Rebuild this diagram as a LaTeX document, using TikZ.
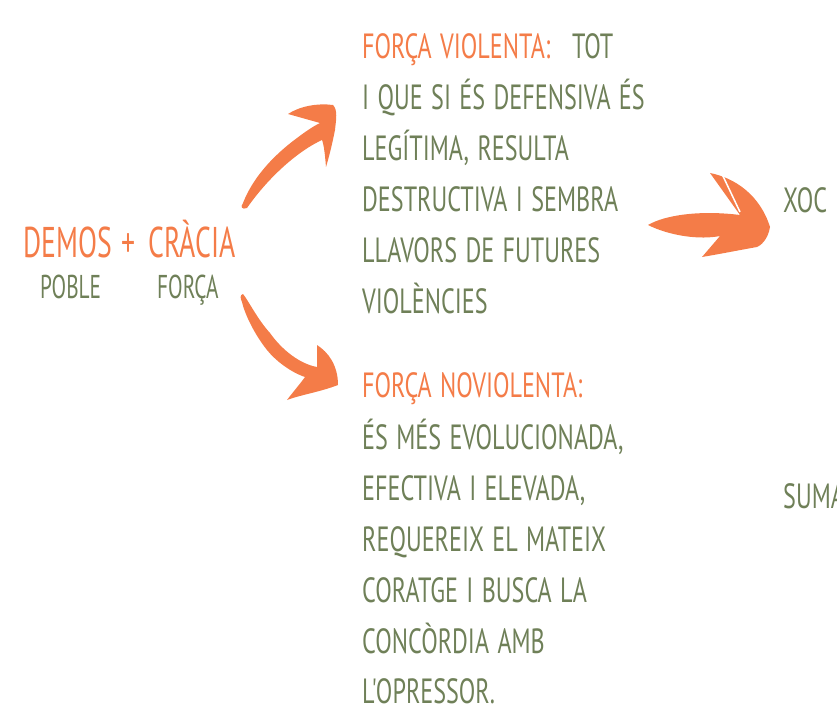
\documentclass[tikz,border=0pt]{standalone}
\usepackage{fontspec}
\setmainfont{PT Sans}[FakeStretch=0.69, WordSpace=1.3, Ligatures=TeXOff]
\newfontfamily\bigfont{PT Sans}[FakeStretch=0.645]
\usetikzlibrary{positioning}
\definecolor{carrot}{HTML}{F47C48}
\definecolor{sage}{HTML}{6F8058}

\begin{document}
\begin{tikzpicture}[x=1pt, y=-1pt,
    hand/.style={font=\fontsize{35}{35}\selectfont, text=sage, anchor=base west, inner sep=0pt},
    head/.style={hand, text=carrot},
    big/.style={hand, font=\bigfont\fontsize{43}{43}\selectfont, text=carrot},
    small/.style={hand, font=\bigfont\fontsize{33}{33}\selectfont},
    brush/.style={fill=carrot, draw=none}
]
\useasboundingbox (0,0) rectangle (837,711);
\clip (0,0) rectangle (837,711);

% demos + cracia
\node[big] (demos) at (23,258) {DEMOS};
\node[big] (plus) at (121,258) {+};
\node[big] (cracia) at (148,258) {CRÀCIA};
\node[small] (poble) at (40,298) {POBLE};
\node[small] (forca) at (157,298) {FORÇA};

% violent branch
\node[head] (violenta) at (362,59) {FORÇA VIOLENTA:};
\node[hand] (tot) at (572,59) {TOT};
\foreach \txt [count=\i] in {I QUE SI ÉS DEFENSIVA ÉS, {LEGÍTIMA, RESULTA}, DESTRUCTIVA I SEMBRA, LLAVORS DE FUTURES, VIOLÈNCIES}
    \node[hand] (v\i) at (362,59+50.8*\i) {\txt};

% nonviolent branch
\node[head] (noviolenta) at (362,397) {FORÇA NOVIOLENTA:};
\foreach \txt [count=\i] in {{ÉS MÉS EVOLUCIONADA,}, {EFECTIVA I ELEVADA,}, REQUEREIX EL MATEIX, CORATGE I BUSCA LA, CONCÒRDIA AMB, L'OPRESSOR.}
    \node[hand] (n\i) at (362,399+50.8*\i) {\txt};

\node[hand] (xoc) at (783,213) {XOC};
\node[hand] (suma) at (783,508) {SUMA};

% brush arrows
\fill[brush] (243,203) .. controls (252,180) and (270,158) .. (297,138)
    .. controls (305,132) and (312,127) .. (320,123) -- (288,114)
    .. controls (300,106) and (318,103) .. (333,105)
    .. controls (338,110) and (336,120) .. (335,130)
    .. controls (332,145) and (329,157) .. (326,167)
    .. controls (325,155) and (324,145) .. (322,140)
    .. controls (300,150) and (270,175) .. (247,208)
    .. controls (242,210) and (240,207) .. cycle;
\fill[brush] (243,294) .. controls (248,300) and (258,320) .. (270,333)
    .. controls (282,350) and (300,364) .. (317,367) -- (317,345)
    .. controls (328,352) and (338,365) .. (338,385)
    .. controls (320,392) and (300,395) .. (287,400)
    .. controls (293,392) and (300,384) .. (305,377)
    .. controls (290,372) and (275,360) .. (267,350)
    .. controls (255,335) and (245,315) .. (242,302)
    .. controls (240,298) and (240,295) .. cycle;
\fill[brush] (648,225) .. controls (665,215) and (700,210) .. (740,215) -- (710,173)
    .. controls (735,178) and (760,195) .. (770,227)
    .. controls (768,240) and (760,246) .. (757,247)
    .. controls (740,250) and (720,254) .. (702,257) -- (720,236)
    .. controls (700,240) and (670,236) .. cycle;
\draw[white, line width=1.5pt] (722,174) -- (740,212);

\end{tikzpicture}
\end{document}
